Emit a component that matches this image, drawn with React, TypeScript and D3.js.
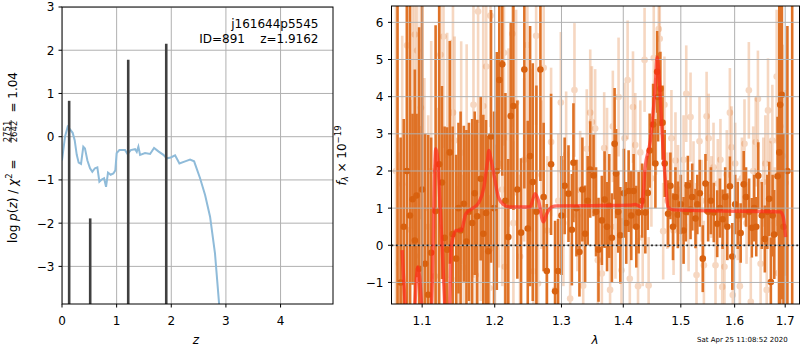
import React from "react";
import * as d3 from "d3";

// ---- left panel: log p(z) ----
const pzZ = [0.0, 0.055, 0.104, 0.147, 0.195, 0.232, 0.27, 0.305, 0.348, 0.39,
  0.42, 0.465, 0.513, 0.555, 0.604, 0.647, 0.684, 0.727, 0.77, 0.806,
  0.842, 0.89, 0.94, 0.976, 1.0, 1.05, 1.154, 1.2, 1.258, 1.337,
  1.368, 1.398, 1.429, 1.52, 1.612, 1.685, 1.764, 1.856, 1.917, 1.99,
  2.07, 2.149, 2.253, 2.344, 2.418, 2.527, 2.619, 2.71, 2.8, 2.875, 2.92];
const pzLog = [-0.55, 0.0, 0.23, 0.17, 0.09, -0.08, -0.42, -0.6, -0.63, -0.23,
  -0.27, -0.55, -0.73, -0.81, -0.73, -0.71, -1.04, -0.99, -0.96, -1.16,
  -0.83, -0.88, -0.85, -0.78, -0.38, -0.31, -0.31, -0.4, -0.31, -0.29,
  -0.35, -0.23, -0.42, -0.38, -0.4, -0.26, -0.34, -0.42, -0.5, -0.48,
  -0.43, -0.62, -0.57, -0.53, -0.57, -0.96, -1.35, -1.85, -2.7, -3.86, -4.5];
const peakZ = [0.131, 0.516, 1.212, 1.908];
const peakLog = [0.83, -1.89, 1.78, 2.15];
const zTicks = [0, 1, 2, 3, 4];
const logTicks = [-3, -2, -1, 0, 1, 2, 3];

// ---- right panel: spectrum ----
const darkWave = [1.068, 1.072, 1.076, 1.080, 1.084, 1.0874, 1.0904, 1.0926, 1.096, 1.100,
  1.104, 1.108, 1.1119, 1.1179, 1.1227, 1.1264, 1.130, 1.1335, 1.137, 1.141,
  1.1458, 1.1490, 1.1519, 1.1564, 1.160, 1.1634, 1.168, 1.1715, 1.1751, 1.1800,
  1.1837, 1.1876, 1.1908, 1.1947, 1.199, 1.2030, 1.2066, 1.2109, 1.2155, 1.2197,
  1.2233, 1.2272, 1.2330, 1.2385, 1.2434, 1.2485, 1.2520, 1.2560, 1.2615, 1.2676,
  1.2725, 1.2773, 1.2839, 1.2901, 1.2947, 1.3000, 1.3050, 1.3110, 1.3163, 1.3188,
  1.3235, 1.3283, 1.3330, 1.3374, 1.3415, 1.3455, 1.3510, 1.3550, 1.3590, 1.3645,
  1.3690, 1.3730, 1.3767, 1.3810, 1.3855, 1.3880, 1.3915, 1.3950, 1.4010, 1.4050,
  1.4090, 1.4135, 1.4175, 1.4220, 1.4260, 1.4320, 1.4375, 1.4417, 1.4450, 1.4510,
  1.4550, 1.4580, 1.4597, 1.4637, 1.4675, 1.4713, 1.4773, 1.4814, 1.4860, 1.4904,
  1.4946, 1.5000, 1.5050, 1.5090, 1.5127, 1.5176, 1.5206, 1.5266, 1.5300, 1.5345,
  1.5400, 1.5450, 1.5500, 1.5550, 1.5605, 1.5669, 1.5720, 1.5770, 1.5820, 1.5860,
  1.5909, 1.5955, 1.6010, 1.6060, 1.6116, 1.6175, 1.6220, 1.6280, 1.6333, 1.6380,
  1.6420, 1.6460, 1.6530, 1.6590, 1.6640, 1.6676, 1.6710, 1.6745, 1.6776, 1.6845,
  1.6880, 1.6898, 1.6933, 1.6965, 1.7045, 1.7143];
const darkFlux = [-2.5, -1.0, 0.5, 2.0, 0.8, 1.24, 0.13, 1.34, -0.63, 1.5,
  -0.5, -1.33, -0.2, 0.92, 2.18, 1.69, 0.2, -0.12, 2.5, 0.3,
  -0.36, 1.0, 0.4, 1.12, 0.1, 0.9, 0.6, 1.4, 0.78, 1.79,
  0.31, 0.87, -0.16, 2.93, 1.0, 2.0, 4.45, 4.87, 1.2, 0.22,
  3.48, 3.75, 1.5, 0.34, 4.73, 0.45, 2.4, 1.7, 0.9, 4.73,
  1.3, -0.69, 2.18, -1.24, -0.69, 0.8, 1.6, 1.39, 0.42, 2.22,
  1.0, -0.18, 1.5, 0.31, 1.2, 2.04, 1.88, 0.9, -0.12, 0.67,
  1.23, 0.5, 1.06, 0.2, 2.73, 1.93, 0.9, 0.27, 1.4, 0.6,
  1.46, 0.8, 1.46, 0.5, 0.88, 1.2, 0.88, 1.41, 2.55, 3.25,
  2.2, 4.67, 3.99, 4.21, 3.3, 2.2, 0.85, 1.6, 0.5, 1.3,
  0.82, 1.1, 0.4, 0.9, 1.61, 0.96, 1.3, 0.72, 1.1, 1.4,
  -0.36, 1.66, 0.9, 1.2, 0.88, 0.58, 1.0, 0.7, 1.3, 0.5,
  1.59, -0.3, 1.1, 0.8, 0.33, 1.64, 1.3, 0.9, 0.47, 1.0,
  0.5, 1.87, 0.8, 0.17, 0.9, 1.25, -0.99, 0.8, 0.29, 1.86,
  2.5, 3.78, 4.05, 0.5, 2.0, 7.0];
const darkErr = [9.0, 3.9, 2.9, 4.6, 6.0, 2.3, 4.6, 2.2, 6.5, 5.5,
  3.5, 4.3, 3.1, 5.0, 5.5, 2.6, 3.0, 3.3, 3.0, 2.9,
  2.8, 2.3, 3.2, 2.1, 3.0, 2.4, 2.8, 2.2, 2.6, 2.2,
  3.2, 2.5, 3.1, 3.4, 2.6, 3.2, 2.4, 3.0, 2.9, 2.1,
  2.5, 2.8, 2.4, 2.0, 3.2, 2.9, 3.5, 3.2, 3.4, 3.0,
  2.0, 1.8, 1.9, 1.9, 1.4, 1.6, 1.3, 1.3, 1.5, 1.6,
  1.3, 1.2, 1.4, 1.3, 1.2, 1.3, 1.1, 1.2, 1.4, 1.2,
  1.3, 1.2, 1.4, 1.2, 1.5, 1.2, 1.1, 1.3, 1.2, 1.1,
  1.1, 1.2, 1.0, 1.1, 1.1, 1.0, 1.1, 1.0, 1.0, 1.1,
  1.2, 1.1, 1.2, 1.0, 1.0, 0.9, 0.9, 0.9, 0.9, 0.8,
  0.9, 0.8, 0.9, 0.8, 0.8, 0.8, 0.9, 0.8, 0.8, 0.9,
  0.9, 0.8, 0.8, 0.9, 0.8, 0.9, 0.8, 0.8, 0.8, 0.9,
  0.8, 0.9, 0.8, 0.9, 0.8, 0.9, 0.8, 0.9, 0.8, 0.9,
  0.8, 0.9, 0.9, 0.9, 1.0, 1.0, 1.2, 1.1, 1.2, 1.6,
  5.0, 6.0, 5.5, 2.5, 3.9, 9.0];

const lightWave = [1.066, 1.070, 1.074, 1.0803, 1.0848, 1.0874, 1.0904, 1.0934, 1.0970, 1.0983,
  1.103, 1.108, 1.112, 1.1169, 1.1210, 1.1244, 1.1285, 1.1335, 1.1384, 1.1414,
  1.1437, 1.1480, 1.1527, 1.1560, 1.1603, 1.1650, 1.1698, 1.1730, 1.1763, 1.1800,
  1.1836, 1.1878, 1.1925, 1.1939, 1.2004, 1.2060, 1.2109, 1.2134, 1.2146, 1.2200,
  1.2256, 1.2272, 1.2312, 1.2370, 1.2430, 1.2479, 1.2526, 1.2570, 1.2611, 1.2640,
  1.2690, 1.2726, 1.2780, 1.2839, 1.2901, 1.2950, 1.2990, 1.3030, 1.3073, 1.3136,
  1.3204, 1.3250, 1.3295, 1.3343, 1.3400, 1.3456, 1.3483, 1.3536, 1.3580, 1.3645,
  1.3683, 1.3730, 1.3780, 1.3826, 1.3870, 1.3921, 1.3970, 1.4022, 1.4073, 1.4110,
  1.4164, 1.4203, 1.4250, 1.4289, 1.4330, 1.4362, 1.4432, 1.4480, 1.4521, 1.4560,
  1.4608, 1.4626, 1.4686, 1.4708, 1.4760, 1.4832, 1.4870, 1.4904, 1.4950, 1.5000,
  1.5050, 1.5098, 1.5140, 1.5176, 1.5230, 1.5285, 1.5340, 1.5380, 1.5421, 1.5471,
  1.5510, 1.5560, 1.5600, 1.5637, 1.5680, 1.5730, 1.5764, 1.5806, 1.5850, 1.5909,
  1.5940, 1.5964, 1.6010, 1.6060, 1.6100, 1.6140, 1.6190, 1.6230, 1.6275, 1.6313,
  1.6360, 1.6410, 1.6453, 1.6506, 1.6560, 1.6600, 1.6627, 1.6653, 1.6700, 1.6740,
  1.6790, 1.6827, 1.6860, 1.6900, 1.6950, 1.7008];
const lightFlux = [2.0, -0.5, 1.64, 5.38, 0.42, 3.45, 5.67, 5.24, -0.29, 3.7,
  1.0, 0.5, 2.0, -0.83, 0.5, 5.13, 5.62, 2.42, 2.53, 3.57,
  2.82, -0.9, 2.49, -0.6, 2.21, 0.2, 3.78, -0.8, 6.29, 1.0,
  3.75, 4.81, -1.15, 6.18, -0.09, 2.2, 1.5, 5.18, -0.58, 2.9,
  5.69, 0.6, 3.84, -0.3, 2.3, 5.39, 2.55, -0.7, 5.64, -1.03,
  1.9, 4.78, 0.4, 2.78, -1.2, 1.2, 3.84, 0.6, 2.44, -1.43,
  4.18, 0.8, 1.48, -1.09, 2.6, 3.57, 3.32, 3.14, -0.4, -0.76,
  2.62, 2.3, -1.2, 3.2, 0.5, 3.99, -0.67, 2.88, 4.45, -0.9,
  3.72, 2.7, -1.1, 2.5, 0.2, 4.99, -1.08, 1.8, 5.04, 3.2,
  5.82, 5.56, 0.38, 3.78, 1.2, 2.88, 0.4, 2.28, 1.5, 0.2,
  2.3, 4.08, 0.5, 3.45, 1.6, -0.8, 2.8, 1.2, -0.54, 3.47,
  2.88, 1.3, 2.1, -0.54, 1.66, 2.3, -1.12, -0.58, 1.9, 3.57,
  2.64, -1.34, 2.2, 0.7, -1.1, 1.8, 2.73, 0.6, 4.17, -1.52,
  2.0, 2.78, 3.94, -0.5, 1.7, 2.2, -1.2, 3.63, 1.4, 2.82,
  0.6, 4.54, -0.75, 3.2, 2.4, 1.68];
const lightErr = [5.0, 3.0, 4.0, 3.5, 3.5, 3.0, 3.0, 3.2, 3.5, 3.0,
  3.5, 3.0, 3.5, 3.0, 3.2, 3.0, 3.0, 3.3, 3.0, 3.5,
  2.8, 2.5, 3.0, 2.5, 3.2, 2.8, 2.8, 2.5, 3.0, 2.5,
  2.7, 3.0, 2.5, 3.0, 2.8, 2.8, 2.6, 2.5, 2.5, 2.4,
  2.5, 2.2, 2.5, 2.2, 2.2, 2.4, 2.2, 2.0, 2.4, 2.0,
  2.0, 2.2, 2.0, 2.0, 1.8, 1.8, 1.9, 1.7, 1.7, 1.5,
  1.8, 1.5, 1.6, 1.5, 1.6, 1.7, 1.5, 1.6, 1.5, 1.5,
  1.5, 1.4, 1.4, 1.5, 1.4, 1.6, 1.4, 1.5, 1.6, 1.3,
  1.5, 1.4, 1.3, 1.4, 1.3, 1.4, 1.3, 1.3, 1.4, 1.3,
  1.3, 1.4, 1.3, 1.3, 1.3, 1.3, 1.2, 1.3, 1.2, 1.2,
  1.2, 1.3, 1.2, 1.2, 1.2, 1.2, 1.2, 1.1, 1.2, 1.2,
  1.2, 1.1, 1.2, 1.1, 1.2, 1.1, 1.2, 1.1, 1.2, 1.2,
  1.1, 1.2, 1.1, 1.1, 1.2, 1.1, 1.2, 1.1, 1.3, 1.2,
  1.2, 1.2, 1.3, 1.2, 1.2, 1.3, 1.3, 1.4, 1.4, 1.5,
  1.5, 1.8, 1.6, 2.5, 3.0, 2.5];

const modelWave = [1.0739, 1.0797, 1.0870, 1.0944, 1.1009, 1.1060, 1.1125, 1.1182, 1.1208, 1.1236,
  1.1275, 1.1325, 1.1370, 1.1392, 1.1459, 1.1526, 1.1593, 1.1683, 1.1776, 1.1846,
  1.1892, 1.1917, 1.1940, 1.2004, 1.2052, 1.2124, 1.2222, 1.2418, 1.2519, 1.2595,
  1.2645, 1.2721, 1.2773, 1.2849, 1.2927, 1.3619, 1.4119, 1.4200, 1.4315, 1.4372,
  1.4462, 1.4550, 1.4580, 1.4608, 1.4668, 1.4725, 1.4773, 1.4844, 1.5174, 1.5803,
  1.6445, 1.6908, 1.6960, 1.7008];
const modelFlux = [-0.13, -2.0, -2.5, -0.58, -2.0, -3.0, -1.6, 2.6, 2.3, 1.2,
  -0.4, -2.2, -1.6, 0.0, 0.4, 0.4, 0.85, 0.99, 1.16, 1.57,
  2.2, 2.55, 2.37, 1.75, 1.3, 1.1, 1.03, 1.03, 1.03, 1.39,
  1.21, 0.63, 0.85, 1.03, 1.06, 1.07, 1.08, 1.1, 1.03, 2.1,
  2.82, 4.35, 5.06, 4.7, 3.0, 1.75, 1.03, 0.96, 0.94, 0.92,
  0.91, 0.9, 0.76, 0.22];
const lamTicks = [1.1, 1.2, 1.3, 1.4, 1.5, 1.6, 1.7];
const fluxTicks = [-1, 0, 1, 2, 3, 4, 5, 6];

const FONT = "DejaVu Sans, sans-serif";
const ORANGE = "#df7226";
const GRID = "#b0b0b0";
const fmt = (v: number) => (v < 0 ? "\u2212" + Math.abs(v) : String(v));

export default function App() {
  // left axes box
  const L = { x0: 62, x1: 333, y0: 7, y1: 304 };
  const xL = d3.scaleLinear().domain([0, 4.96]).range([L.x0, L.x1]);
  const yL = d3.scaleLinear().domain([-3.87, 3]).range([L.y1, L.y0]);
  // right axes box
  const R = { x0: 391.5, x1: 799.5, y0: 6, y1: 304 };
  const xR = d3.scaleLog().domain([1.0603, 1.7294]).range([R.x0, R.x1]);
  const yR = d3.scaleLinear().domain([-1.58, 6.44]).range([R.y1, R.y0]);

  const pzLine = d3.line<number>()
    .x((_, i) => xL(pzZ[i]))
    .y((d) => yL(d));
  const modelLine = d3.line<number>()
    .x((_, i) => xR(modelWave[i]))
    .y((d) => yR(d))
    .curve(d3.curveMonotoneX);

  return (
    <svg width={800} height={350} style={{ position: "absolute", left: 0, top: 0, background: "#fff" }}
      fontFamily={FONT}>
      <defs>
        <clipPath id="clipL"><rect x={L.x0} y={L.y0} width={L.x1 - L.x0} height={L.y1 - L.y0} /></clipPath>
        <clipPath id="clipR"><rect x={R.x0} y={R.y0} width={R.x1 - R.x0} height={R.y1 - R.y0} /></clipPath>
      </defs>

      {/* ===== left panel ===== */}
      <g clipPath="url(#clipL)">
        {zTicks.map((t) => (
          <line key={"gx" + t} x1={xL(t)} x2={xL(t)} y1={L.y0} y2={L.y1} stroke={GRID} strokeWidth={1} />
        ))}
        {logTicks.map((t) => (
          <line key={"gy" + t} x1={L.x0} x2={L.x1} y1={yL(t)} y2={yL(t)} stroke={GRID} strokeWidth={1} />
        ))}
        <path d={pzLine(pzLog) ?? undefined} fill="none" stroke="#8fbbd9" strokeWidth={2} />
        {peakZ.map((z, i) => (
          <line key={"pk" + i} x1={xL(z)} x2={xL(z)} y1={yL(-3.87)} y2={yL(peakLog[i])}
            stroke="#404040" strokeWidth={2.6} />
        ))}
      </g>
      <rect x={L.x0} y={L.y0} width={L.x1 - L.x0} height={L.y1 - L.y0} fill="none" stroke="#000" strokeWidth={1} />
      {zTicks.map((t) => (
        <g key={"tx" + t}>
          <line x1={xL(t)} x2={xL(t)} y1={L.y1} y2={L.y1 + 3.5} stroke="#000" />
          <text x={xL(t)} y={325} fontSize={12} textAnchor="middle">{fmt(t)}</text>
        </g>
      ))}
      {logTicks.map((t) => (
        <g key={"ty" + t}>
          <line x1={L.x0 - 3.5} x2={L.x0} y1={yL(t)} y2={yL(t)} stroke="#000" />
          <text x={54.5} y={yL(t) + 4.4} fontSize={12} textAnchor="end">{fmt(t)}</text>
        </g>
      ))}
      <text x={318.5} y={27.5} fontSize={12} textAnchor="end">j161644p5545</text>
      <text x={318.5} y={43} fontSize={12} textAnchor="end" xmlSpace="preserve">ID=891    z=1.9162</text>
      <text x={196} y={344} fontSize={12} textAnchor="middle" fontStyle="italic">z</text>
      <g transform="translate(16.7,0) rotate(-90)" fontSize={12}>
        <text x={-243} y={0}>
          log <tspan fontStyle="italic">p</tspan>(<tspan fontStyle="italic">z</tspan>) / <tspan fontStyle="italic">χ</tspan>
          <tspan fontSize={8.5} dy={-5}>2</tspan><tspan dy={5}> =</tspan>
        </text>
        <text x={-131.5} y={-6.8} fontSize={8.5} textAnchor="middle">2751</text>
        <line x1={-143} x2={-120} y1={-5.6} y2={-5.6} stroke="#000" strokeWidth={0.7} />
        <text x={-131.5} y={0.6} fontSize={8.5} textAnchor="middle">2642</text>
        <text x={-72} y={0} textAnchor="end">= 1.04</text>
      </g>

      {/* ===== right panel ===== */}
      <g clipPath="url(#clipR)">
        {lightWave.map((w, i) => (
          <g key={"lt" + i} opacity={0.28}>
            <line x1={xR(w)} x2={xR(w)} y1={yR(lightFlux[i] - lightErr[i])} y2={yR(lightFlux[i] + lightErr[i])}
              stroke={ORANGE} strokeWidth={2.6} />
            <circle cx={xR(w)} cy={yR(lightFlux[i])} r={3.3} fill={ORANGE} />
          </g>
        ))}
        {darkWave.map((w, i) => (
          <line key={"db" + i} x1={xR(w)} x2={xR(w)} y1={yR(darkFlux[i] - darkErr[i])} y2={yR(darkFlux[i] + darkErr[i])}
            stroke={ORANGE} strokeWidth={2.6} />
        ))}
        {darkWave.map((w, i) => (
          <circle key={"dp" + i} cx={xR(w)} cy={yR(darkFlux[i])} r={3.3} fill="#d8610f" />
        ))}
        {lamTicks.map((t) => (
          <line key={"rgx" + t} x1={xR(t)} x2={xR(t)} y1={R.y0} y2={R.y1} stroke={GRID} strokeWidth={1} />
        ))}
        {fluxTicks.map((t) => (
          <line key={"rgy" + t} x1={R.x0} x2={R.x1} y1={yR(t)} y2={yR(t)} stroke={GRID} strokeWidth={1} />
        ))}
        <line x1={R.x0} x2={R.x1} y1={yR(0)} y2={yR(0)} stroke="#222" strokeWidth={1.8} strokeDasharray="1.8 2.6" />
        <path d={modelLine(modelFlux) ?? undefined} fill="none" stroke="#ff2a1a" strokeOpacity={0.68}
          strokeWidth={3.4} strokeLinejoin="round" />
      </g>
      <rect x={R.x0} y={R.y0} width={R.x1 - R.x0} height={R.y1 - R.y0} fill="none" stroke="#000" strokeWidth={1} />
      {lamTicks.map((t) => (
        <g key={"rtx" + t}>
          <line x1={xR(t)} x2={xR(t)} y1={R.y1} y2={R.y1 + 3.5} stroke="#000" />
          <text x={xR(t)} y={325} fontSize={12} textAnchor="middle">{t.toFixed(1)}</text>
        </g>
      ))}
      {fluxTicks.map((t) => (
        <g key={"rty" + t}>
          <line x1={R.x0 - 3.5} x2={R.x0} y1={yR(t)} y2={yR(t)} stroke="#000" />
          <text x={383.5} y={yR(t) + 4.4} fontSize={12} textAnchor="end">{fmt(t)}</text>
        </g>
      ))}
      <text x={595} y={344} fontSize={12} textAnchor="middle" fontStyle="italic">λ</text>
      <g transform="translate(345.5,155.5) rotate(-90)" fontSize={12}>
        <text x={0} y={0} textAnchor="middle">
          <tspan fontStyle="italic">f</tspan>
          <tspan fontSize={8.5} fontStyle="italic" dy={2.5}>λ</tspan>
          <tspan dy={-2.5}> × 10</tspan>
          <tspan fontSize={8.5} dy={-5}>−19</tspan>
        </text>
      </g>
      <text x={787.7} y={342} fontSize={7} textAnchor="end">Sat Apr 25 11:08:52 2020</text>
    </svg>
  );
}
